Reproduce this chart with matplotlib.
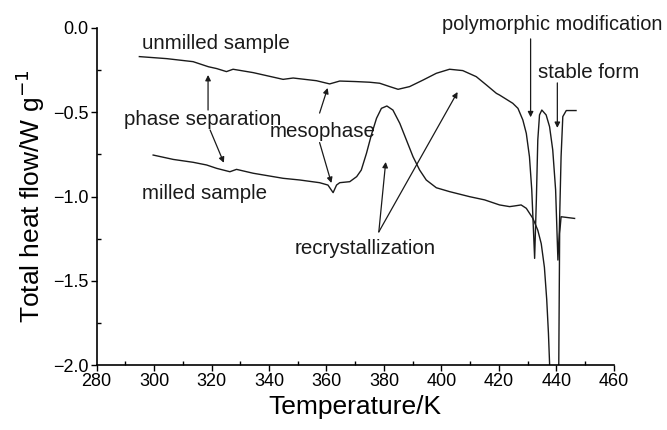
import numpy as np
import matplotlib
matplotlib.use("Agg")
import matplotlib.pyplot as plt
from matplotlib.ticker import MultipleLocator

plt.rcParams['font.family'] = ['Liberation Sans', 'DejaVu Sans']

# unmilled sample
unmilled_T = [294.9, 304.4, 313.6, 318.9, 321.8, 325.2, 327.5, 334.5, 344.9, 348.4, 356.5, 361.1,
              364.6, 370, 375, 378.5, 382, 384.9, 388.9, 393.6, 398.2, 402.8, 407.4, 412.1,
              415.6, 419.1, 420.2, 424.8, 426.6, 428.3, 429.5, 430.6, 431.4, 432.4, 433.0,
              433.5, 434.1, 434.9, 436.4, 437.6, 438.7, 439.7, 440.5, 441.0, 441.6, 442.2,
              443.4, 446.8]
unmilled_Q = [-0.17, -0.182, -0.20, -0.23, -0.241, -0.259, -0.245, -0.265, -0.305, -0.297, -0.313,
              -0.332, -0.315, -0.318, -0.322, -0.328, -0.348, -0.364, -0.348, -0.309, -0.269,
              -0.245, -0.253, -0.289, -0.338, -0.388, -0.398, -0.447, -0.477, -0.546, -0.625,
              -0.764, -0.96, -1.367, -1.02, -0.665, -0.516, -0.487, -0.516, -0.586, -0.724,
              -0.961, -1.377, -1.20, -0.764, -0.526, -0.49, -0.49]

# milled sample
milled_T = [299.7, 306.7, 313.6, 318.3, 321.8, 326.4, 328.7, 334.5, 344.9, 350.7, 357.6, 360.5,
            362.3, 363.5, 364.6, 368.1, 370.5, 372.1, 373.9, 375.6, 377.4, 379.1, 381.0, 383.1,
            385.5, 387.8, 390.1, 392.4, 394.7, 398.2, 402.8, 409.8, 415, 420.2, 423.7, 425.4,
            427.7, 429.5, 431.8, 433.5, 434.7, 435.8, 436.6, 437.2, 437.6, 438.2, 440.2, 440.8,
            441.1, 441.6, 446.3]
milled_Q = [-0.754, -0.78, -0.797, -0.813, -0.833, -0.853, -0.839, -0.862, -0.892, -0.902, -0.918,
            -0.932, -0.977, -0.932, -0.918, -0.912, -0.882, -0.843, -0.744, -0.635, -0.536,
            -0.477, -0.463, -0.487, -0.566, -0.665, -0.764, -0.843, -0.902, -0.948, -0.971,
            -1.001, -1.02, -1.05, -1.06, -1.056, -1.05, -1.07, -1.13, -1.20, -1.28, -1.42,
            -1.61, -1.81, -1.99, -2.3, -2.3, -1.99, -1.22, -1.12, -1.13]

fig = plt.figure(figsize=(6.67, 4.30), dpi=100)
ax = fig.add_axes([0.1447, 0.151, 0.7758, 0.784])

ax.plot(unmilled_T, unmilled_Q, color='#1a1a1a', lw=1.0)
ax.plot(milled_T, milled_Q, color='#1a1a1a', lw=1.0)

ax.set_xlim(280, 460)
ax.set_ylim(-2.0, 0.0)
ax.xaxis.set_major_locator(MultipleLocator(20))
ax.xaxis.set_minor_locator(MultipleLocator(10))
ax.yaxis.set_major_locator(MultipleLocator(0.5))
ax.yaxis.set_minor_locator(MultipleLocator(0.25))
ax.tick_params(which='major', direction='out', length=4, width=1, labelsize=13, pad=2)
ax.tick_params(which='minor', direction='in', length=3, width=1)
ax.spines['top'].set_visible(False)
ax.spines['right'].set_visible(False)
ax.spines['left'].set_linewidth(1.2)
ax.spines['bottom'].set_linewidth(1.2)

ax.set_xlabel("Temperature/K", fontsize=19, labelpad=3)
ax.set_ylabel("Total heat flow/W g$^{-1}$", fontsize=19, labelpad=4)

tkw = dict(fontsize=14.8, color='#1a1a1a', va='center', ha='left', clip_on=False)
ax.text(295.8, -0.09, "unmilled sample", **tkw)
ax.text(289.6, -0.546, "phase separation", **tkw)
ax.text(340.3, -0.617, "mesophase", **tkw)
ax.text(295.8, -0.98, "milled sample", **tkw)
ax.text(349, -1.31, "recrystallization", **tkw)
ax.text(433.4, -0.267, "stable form", **tkw)
tkw['fontsize'] = 14.4
ax.text(400.2, 0.02, "polymorphic modification", **tkw)

akw = dict(arrowstyle='-|>', lw=0.9, color='#1a1a1a', mutation_scale=8, shrinkA=0, shrinkB=0)
arrows = [((318.8, -0.487), (318.8, -0.279)),
          ((319.5, -0.605), (324.3, -0.80)),
          ((357.6, -0.505), (360.4, -0.356)),
          ((357.6, -0.68), (361.7, -0.92)),
          ((378.2, -1.21), (380.6, -0.795)),
          ((378.2, -1.21), (405.6, -0.38)),
          ((431.0, -0.065), (431.0, -0.53)),
          ((440.3, -0.326), (440.3, -0.593))]
for start, end in arrows:
    ax.annotate("", xy=end, xytext=start, arrowprops=akw)

fig.savefig("out.png", dpi=100)
